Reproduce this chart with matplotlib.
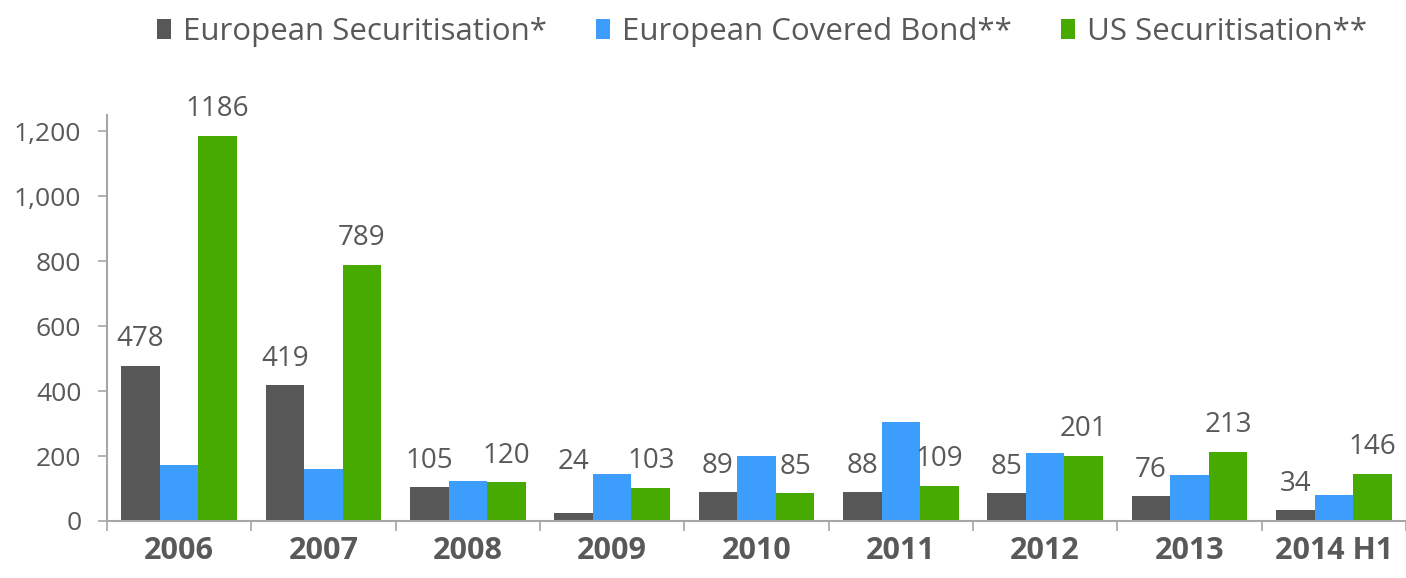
import matplotlib
matplotlib.use("Agg")
import matplotlib.pyplot as plt
from matplotlib.patches import Patch
import numpy as np

categories = ["2006", "2007", "2008", "2009", "2010", "2011", "2012", "2013", "2014 H1"]
euro_sec = [478, 419, 105, 24, 89, 88, 85, 76, 34]
euro_cb = [171, 159, 123, 144, 200, 304, 209, 141, 80]
us_sec = [1186, 789, 120, 103, 85, 109, 201, 213, 146]
series_names = ["European Securitisation*", "European Covered Bond**", "US Securitisation**"]
colors = ["#575757", "#3d9dfc", "#46aa00"]
yticks = [0, 200, 400, 600, 800, 1000, 1200]
ytick_labels = ["0", "200", "400", "600", "800", "1,000", "1,200"]

plt.rcParams['font.family'] = ['Open Sans', 'DejaVu Sans']
text_color = "#595959"
axis_color = "#a6a6a6"

fig = plt.figure(figsize=(14.06, 5.78), dpi=100)
ax = fig.add_axes([107/1406, 57/578, 1 - 107/1406, (521-115)/578])

x = np.arange(len(categories))
w = 0.267
series = [euro_sec, euro_cb, us_sec]
for i, (vals, c) in enumerate(zip(series, colors)):
    ax.bar(x + (i - 1) * w, vals, width=w, color=c, edgecolor='none', zorder=2)

# data labels for dark and green series
def label(xpos, v, extra=0):
    ax.annotate(f"{v}", (xpos, v), xytext=(0, 19 + extra), textcoords='offset points',
                ha='center', va='center', fontsize=20, color=text_color)

for j, v in enumerate(euro_sec):
    label(x[j] - w, v, extra=18 if v < 30 else 0)
for j, v in enumerate(us_sec):
    label(x[j] + w, v)

ax.set_ylim(0, 1250)
ax.set_xlim(-0.5, 8.5 - 6/145)
ax.set_yticks(yticks)
ax.set_yticklabels(ytick_labels)
ax.tick_params(axis='y', direction='out', length=6.5, width=1.2, color=axis_color,
               labelsize=19, labelcolor=text_color, pad=12)

ax.set_xticks(np.arange(-0.5, len(categories), 1.0))
ax.set_xticklabels([])
ax.tick_params(axis='x', which='major', direction='out', length=7.5, width=1.2, color=axis_color)
ax.set_xticks(x, minor=True)
ax.set_xticklabels(categories, minor=True, fontsize=22, fontweight='bold', color=text_color)
ax.tick_params(axis='x', which='minor', length=0, pad=11)

for s in ['top', 'right']:
    ax.spines[s].set_visible(False)
for s in ['left', 'bottom']:
    ax.spines[s].set_color(axis_color)
    ax.spines[s].set_linewidth(1.5)

handles = [Patch(facecolor=c, edgecolor='none') for c in colors]
fig.legend(handles, series_names, loc='center', bbox_to_anchor=(762/1406, 1 - 32/578),
           ncol=3, frameon=False, fontsize=22.5, labelcolor=text_color,
           handlelength=0.45, handleheight=0.6, handletextpad=0.4, columnspacing=1.55)

fig.savefig("out.png", dpi=100)
